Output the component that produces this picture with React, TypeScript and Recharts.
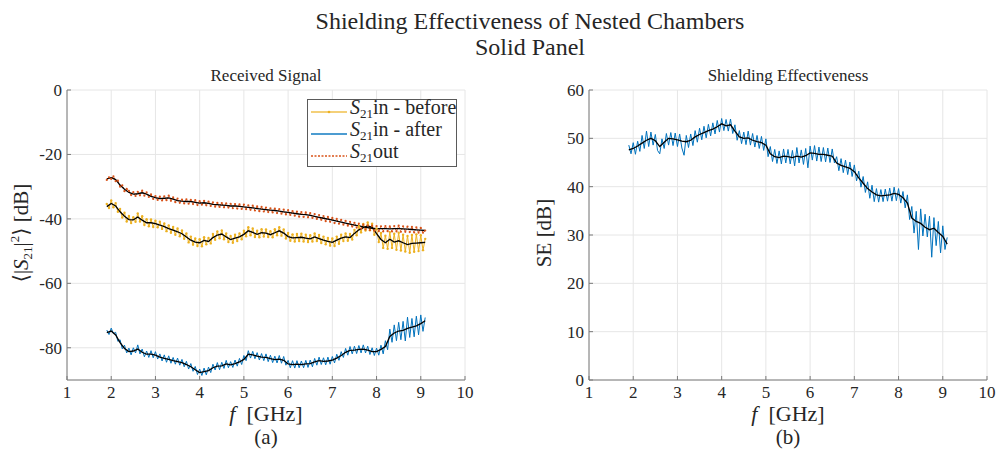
import React from 'react';
import { ComposedChart, Line, XAxis, YAxis, CartesianGrid } from 'recharts';

// measurement grid: raw sweep every 50 MHz, smoothed curve every 100 MHz
const RAW_START = 1.9;
const RAW_STEP = 0.05;
const SMOOTH_STEP = 0.1;

const X_TICKS = [1, 2, 3, 4, 5, 6, 7, 8, 9, 10];
const RX_TICKS = [-80, -60, -40, -20, 0];
const SE_TICKS = [0, 10, 20, 30, 40, 50, 60];

// S21 out (raw)
const outRaw = [
  -27.9, -27.1, -27.6, -26.8, -28.3, -28.1, -30.0, -29.6, -31.4, -30.7,
  -31.3, -32.6, -31.7, -32.9, -31.6, -32.7, -31.2, -32.8, -31.8, -33.2,
  -32.4, -33.8, -32.9, -34.1, -33.1, -34.3, -33.0, -34.2, -32.8, -34.4,
  -33.3, -34.8, -33.7, -35.0, -34.0, -35.2, -33.9, -35.3, -34.1, -35.4,
  -34.2, -35.7, -34.5, -35.6, -34.4, -35.8, -34.6, -36.0, -34.9, -36.2,
  -35.0, -36.3, -35.1, -36.4, -35.2, -36.5, -35.3, -36.7, -35.4, -36.8,
  -35.5, -36.9, -35.6, -37.0, -35.8, -37.2, -35.9, -37.4, -36.1, -37.6,
  -36.3, -37.7, -36.5, -37.9, -36.7, -38.0, -36.8, -38.2, -37.0, -38.4,
  -37.1, -38.6, -37.3, -38.8, -37.6, -39.0, -37.7, -39.3, -37.9, -39.4,
  -38.0, -39.5, -38.2, -39.7, -38.5, -40.0, -38.8, -40.3, -39.1, -40.7,
  -39.4, -40.9, -39.7, -41.3, -40.0, -41.5, -40.3, -41.8, -40.6, -42.1,
  -40.9, -42.4, -41.2, -42.7, -41.5, -43.0, -41.8, -43.3, -42.0, -43.5,
  -42.1, -43.7, -42.2, -43.8, -42.3, -43.9, -42.2, -43.8, -42.3, -43.9,
  -42.2, -43.9, -42.1, -44.0, -42.3, -44.0, -42.4, -44.1, -42.5, -44.2,
  -42.6, -44.3, -42.8, -44.3, -43.6,
];

// S21 in, before (raw)
const beforeRaw = [
  -35.4, -36.6, -34.3, -36.4, -35.1, -37.8, -36.9, -39.6, -38.1, -40.8,
  -39.1, -41.3, -39.5, -40.9, -38.3, -40.8, -39.2, -41.9, -40.1, -42.3,
  -40.2, -42.5, -40.6, -42.6, -40.9, -43.1, -41.4, -43.8, -42.0, -44.3,
  -42.5, -44.9, -43.0, -45.4, -43.6, -46.2, -44.5, -47.3, -45.5, -48.0,
  -46.1, -48.4, -46.3, -48.5, -45.7, -47.9, -45.9, -47.6, -44.7, -46.5,
  -43.9, -46.0, -43.6, -46.3, -44.5, -47.2, -45.3, -47.4, -44.9, -46.9,
  -44.5, -46.3, -43.7, -45.4, -42.6, -45.1, -43.0, -45.6, -43.7, -45.7,
  -43.2, -45.5, -43.3, -45.6, -43.8, -45.7, -43.2, -45.1, -42.6, -45.2,
  -43.3, -46.1, -44.4, -46.8, -44.8, -47.0, -44.7, -46.9, -44.6, -47.0,
  -44.9, -47.2, -45.1, -47.0, -44.5, -46.9, -45.0, -47.5, -45.5, -47.9,
  -45.9, -48.3, -46.1, -48.4, -45.5, -47.7, -44.9, -46.9, -44.5, -46.8,
  -44.7, -46.4, -43.4, -45.1, -42.3, -44.2, -41.6, -43.6, -41.1, -43.5,
  -41.5, -44.9, -43.0, -47.2, -44.4, -49.0, -45.2, -49.3, -44.1, -49.0,
  -44.6, -49.6, -44.3, -49.8, -44.9, -50.1, -45.3, -50.5, -45.0, -50.2,
  -44.8, -50.0, -45.1, -49.7, -46.2,
];

// S21 in, after (raw)
const afterRaw = [
  -74.5, -75.9, -73.9, -75.6, -75.2, -78.0, -77.5, -80.3, -79.2, -81.6,
  -80.1, -82.2, -80.0, -81.6, -79.1, -81.9, -80.4, -82.8, -81.0, -83.0,
  -80.9, -83.1, -81.2, -83.5, -81.9, -84.1, -82.2, -84.5, -82.5, -84.8,
  -83.0, -85.1, -83.2, -85.4, -83.6, -85.9, -84.2, -86.6, -84.9, -87.3,
  -85.8, -88.3, -86.6, -88.6, -86.3, -88.4, -86.0, -87.7, -85.1, -86.9,
  -84.6, -86.8, -84.5, -86.4, -83.9, -86.2, -84.3, -86.1, -83.8, -85.7,
  -83.3, -85.2, -82.4, -84.0, -80.9, -83.2, -81.1, -83.4, -81.5, -83.8,
  -81.8, -84.0, -81.9, -84.3, -82.3, -84.6, -82.6, -84.7, -82.4, -84.8,
  -82.7, -85.4, -83.9, -86.2, -84.0, -86.3, -84.0, -86.2, -84.1, -86.2,
  -83.9, -86.1, -83.8, -85.9, -83.3, -85.4, -82.9, -85.2, -83.1, -85.3,
  -82.9, -85.1, -82.7, -84.7, -82.0, -83.9, -81.2, -83.0, -80.2, -82.3,
  -79.6, -81.9, -79.5, -81.8, -79.3, -81.6, -79.1, -81.6, -79.5, -82.1,
  -80.0, -82.4, -80.1, -82.3, -79.2, -81.9, -77.8, -80.6, -74.2, -78.3,
  -72.9, -77.8, -72.1, -77.5, -71.8, -77.9, -70.5, -76.8, -70.9, -76.6,
  -70.2, -76.0, -69.8, -74.9, -70.6,
];

// shielding effectiveness (raw)
const seRaw = [
  48.6, 46.8, 49.1, 46.7, 49.4, 47.3, 50.6, 47.9, 51.5, 48.3,
  51.3, 48.6, 50.8, 47.5, 46.8, 49.9, 47.9, 51.0, 48.6, 51.2,
  48.5, 51.1, 48.3, 50.9, 48.0, 46.5, 50.6, 48.1, 50.9, 48.5,
  51.6, 49.2, 52.1, 49.7, 52.5, 50.1, 52.9, 50.5, 53.2, 50.9,
  53.7, 51.3, 54.1, 51.6, 53.9, 51.5, 54.0, 51.0, 52.8, 49.6,
  51.6, 48.9, 51.3, 48.7, 51.5, 48.6, 51.0, 48.2, 50.6, 47.9,
  50.4, 47.5, 49.9, 46.2, 48.3, 45.2, 47.7, 44.8, 47.4, 44.7,
  47.8, 44.9, 47.7, 44.7, 47.5, 44.3, 48.1, 44.9, 47.6, 44.6,
  47.9, 43.9, 48.4, 45.5, 48.5, 45.3, 48.2, 45.2, 48.1, 45.1,
  48.0, 45.0, 47.8, 44.9, 46.2, 43.3, 45.8, 42.9, 45.5, 42.5,
  45.1, 42.1, 44.5, 41.2, 43.2, 39.9, 42.1, 38.8, 41.0, 37.6,
  40.3, 36.9, 39.6, 36.8, 39.4, 36.9, 39.5, 37.0, 39.7, 37.0,
  39.9, 37.1, 39.6, 36.6, 39.0, 35.6, 38.3, 33.2, 35.9, 30.4,
  34.9, 27.0, 35.4, 29.8, 34.3, 29.6, 33.9, 25.4, 33.6, 27.8,
  32.8, 26.3, 31.9, 27.0, 29.5,
];

// smoothed curves (black)
const outSmooth = [
  -27.6, -27.2, -27.8, -29.5, -30.8, -31.8, -32.3, -32.2, -31.9, -32.3,
  -33.0, -33.4, -33.7, -33.6, -33.5, -33.9, -34.3, -34.5, -34.6, -34.6,
  -34.9, -35.1, -35.0, -35.2, -35.5, -35.6, -35.7, -35.8, -36.0, -36.0,
  -36.1, -36.3, -36.4, -36.6, -36.8, -37.0, -37.1, -37.3, -37.4, -37.6,
  -37.8, -38.0, -38.2, -38.4, -38.6, -38.7, -38.9, -39.2, -39.5, -39.8,
  -40.1, -40.4, -40.7, -41.0, -41.3, -41.6, -41.9, -42.2, -42.5, -42.7,
  -42.9, -43.0, -43.0, -43.0, -43.1, -43.0, -43.0, -43.1, -43.2, -43.3,
  -43.4, -43.5, -43.6,
];

const beforeSmooth = [
  -36.2, -35.2, -36.0, -37.8, -39.2, -40.2, -40.3, -39.4, -40.4, -41.2,
  -41.2, -41.5, -41.9, -42.4, -43.0, -43.5, -44.0, -44.6, -45.6, -46.6,
  -47.2, -47.4, -46.7, -47.0, -45.8, -45.0, -44.7, -45.6, -46.4, -46.0,
  -45.6, -44.8, -43.7, -44.2, -44.8, -44.3, -44.4, -44.9, -44.3, -43.7,
  -44.4, -45.5, -45.9, -45.8, -45.7, -46.0, -46.2, -45.6, -46.1, -46.6,
  -47.0, -47.3, -46.6, -46.0, -45.6, -45.8, -44.5, -43.4, -42.7, -42.2,
  -42.6, -44.6, -46.4, -47.4, -46.3, -47.2, -46.8, -47.4, -48.0, -47.6,
  -47.5, -47.4, -47.3,
];

const afterSmooth = [
  -75.3, -74.8, -76.0, -78.4, -80.2, -81.2, -81.0, -80.4, -81.4, -82.0,
  -82.0, -82.3, -82.9, -83.3, -83.6, -84.0, -84.3, -84.6, -85.2, -85.9,
  -86.8, -87.7, -87.4, -87.1, -86.2, -85.7, -85.6, -85.0, -85.3, -84.9,
  -84.4, -83.6, -82.0, -82.2, -82.6, -82.9, -83.0, -83.4, -83.7, -83.5,
  -83.9, -85.0, -85.2, -85.1, -85.2, -85.0, -84.9, -84.4, -84.0, -84.2,
  -84.1, -83.8, -83.2, -82.4, -81.4, -80.8, -80.7, -80.5, -80.4, -80.7,
  -81.2, -81.2, -80.5, -79.6, -76.5, -75.4, -74.8, -74.6, -74.0, -73.6,
  -73.2, -72.5, -71.6,
];

const seSmooth = [
  47.6, 47.9, 48.4, 49.0, 49.6, 50.0, 49.5, 48.3, 49.2, 50.0,
  49.9, 49.7, 49.4, 49.3, 49.6, 50.3, 50.8, 51.2, 51.6, 51.9,
  52.4, 53.0, 52.6, 52.8, 51.5, 50.3, 50.0, 50.1, 49.6, 49.3,
  49.1, 48.6, 46.8, 46.2, 46.0, 46.3, 46.2, 46.0, 46.3, 46.1,
  46.4, 47.0, 46.9, 46.7, 46.7, 46.5, 46.3, 44.9, 44.4, 44.1,
  43.8, 43.1, 41.8, 40.7, 39.6, 38.9, 38.3, 38.1, 38.2, 38.3,
  38.6, 38.4, 37.7, 36.6, 33.5, 32.8, 32.4, 31.6, 31.1, 31.4,
  30.5, 29.7, 28.1,
];

const toRows = (vals: number[], step: number) =>
  vals.map((v, i) => ({ f: +(RAW_START + i * step).toFixed(2), v }));

const FONT = '"Liberation Serif", "DejaVu Serif", serif';
const TEXT = '#262626';
const AXIS = '#7a7a7a';
const GRID = '#e6e6e6';

const YELLOW = '#EDB120';
const BLUE = '#0072BD';
const RED = '#D95319';

const tickStyle = { fontSize: 17, fill: TEXT, fontFamily: FONT };

const Sub21 = () => <sub style={{ fontSize: 13, verticalAlign: -4 }}>21</sub>;

const legendItems = [
  { label: 'in - before', color: YELLOW, dash: undefined, dot: true, opacity: 0.6 },
  { label: 'in - after', color: BLUE, dash: undefined, dot: false, opacity: 0.7 },
  { label: 'out', color: RED, dash: '2 1.5', dot: false, opacity: 1 },
];

const RxLegend = () => (
  <div
    style={{
      position: 'absolute',
      left: 307,
      top: 99,
      width: 150,
      height: 68,
      border: '1px solid #5a5a5a',
      background: '#fff',
      fontFamily: FONT,
      fontSize: 20,
      color: TEXT,
      boxSizing: 'border-box',
      paddingTop: 1,
    }}
  >
    {legendItems.map((it) => (
      <div key={it.label} style={{ display: 'flex', alignItems: 'center', height: 22, lineHeight: '20px' }}>
        <svg width={41} height={10} style={{ flex: 'none' }}>
          <line x1={3} y1={5} x2={39} y2={5} stroke={it.color} strokeWidth={it.dash ? 1.5 : 2}
            strokeDasharray={it.dash} strokeOpacity={it.opacity} />
          {it.dot && <circle cx={21} cy={5} r={1.3} fill={it.color} />}
        </svg>
        <span style={{ marginLeft: 1, whiteSpace: 'nowrap', marginTop: -4 }}>
          <i>S</i>
          <Sub21 />
          {it.label}
        </span>
      </div>
    ))}
  </div>
);

const txt = (extra: React.CSSProperties): React.CSSProperties => ({
  position: 'absolute',
  fontFamily: FONT,
  color: TEXT,
  whiteSpace: 'nowrap',
  lineHeight: 1,
  ...extra,
});

const App: React.FC = () => {
  const outR = toRows(outRaw, RAW_STEP);
  const beforeR = toRows(beforeRaw, RAW_STEP);
  const afterR = toRows(afterRaw, RAW_STEP);
  const seR = toRows(seRaw, RAW_STEP);
  const outS = toRows(outSmooth, SMOOTH_STEP);
  const beforeS = toRows(beforeSmooth, SMOOTH_STEP);
  const afterS = toRows(afterSmooth, SMOOTH_STEP);
  const seS = toRows(seSmooth, SMOOTH_STEP);

  const xAxis = (
    <XAxis
      dataKey="f"
      type="number"
      domain={[1, 10]}
      ticks={X_TICKS}
      allowDataOverflow
      interval={0}
      stroke={AXIS}
      tick={tickStyle}
      tickSize={-4}
      tickMargin={10}
      height={30}
    />
  );

  return (
    <div style={{ position: 'absolute', left: 0, top: 0, width: 998, height: 454, background: '#fff' }}>
      <div style={txt({ left: 0, width: 1060, top: 9, textAlign: 'center', fontSize: 24 })}>
        Shielding Effectiveness of Nested Chambers
      </div>
      <div style={txt({ left: 0, width: 1060, top: 35, textAlign: 'center', fontSize: 24 })}>Solid Panel</div>

      {/* (a) received signal */}
      <div style={{ position: 'absolute', left: 0, top: 0 }}>
        <ComposedChart width={499} height={454} margin={{ top: 90, right: 34, left: 27, bottom: 44 }}>
          <CartesianGrid stroke={GRID} />
          {xAxis}
          <YAxis
            type="number"
            domain={[-90, 0]}
            ticks={RX_TICKS}
            allowDataOverflow
            interval={0}
            stroke={AXIS}
            tick={tickStyle}
            tickSize={-4}
            tickMargin={9}
            width={40}
          />
          <Line data={beforeR} dataKey="v" type="linear" stroke={YELLOW} strokeWidth={1}
            dot={{ r: 1.2, fill: YELLOW, stroke: 'none' }} isAnimationActive={false} />
          <Line data={beforeS} dataKey="v" type="linear" stroke="#000" strokeWidth={1.3} dot={false}
            isAnimationActive={false} />
          <Line data={afterR} dataKey="v" type="linear" stroke={BLUE} strokeWidth={1} dot={false}
            isAnimationActive={false} />
          <Line data={afterS} dataKey="v" type="linear" stroke="#000" strokeWidth={1.3} dot={false}
            isAnimationActive={false} />
          <Line data={outR} dataKey="v" type="linear" stroke={RED} strokeWidth={1} strokeDasharray="2 1.5"
            dot={{ r: 1.1, fill: RED, stroke: 'none' }} isAnimationActive={false} />
          <Line data={outS} dataKey="v" type="linear" stroke="#000" strokeWidth={1.3} dot={false}
            isAnimationActive={false} />
        </ComposedChart>
      </div>
      <RxLegend />
      <div style={txt({ left: 67, width: 398, top: 67, textAlign: 'center', fontSize: 17 })}>Received Signal</div>
      <div style={txt({ left: 67, width: 398, top: 403, textAlign: 'center', fontSize: 22 })}>
        <i>f</i>&nbsp; [GHz]
      </div>
      <div style={txt({ left: 67, width: 398, top: 427, textAlign: 'center', fontSize: 21 })}>(a)</div>
      <div
        style={txt({
          left: 21,
          top: 233,
          fontSize: 21,
          transform: 'translate(-50%, -50%) rotate(-90deg)',
        })}
      >
        {'\u27E8|'}
        <i>S</i>
        <Sub21 />
        {'|'}
        <sup style={{ fontSize: 13, verticalAlign: 9 }}>2</sup>
        {'\u27E9\u00A0[dB]'}
      </div>

      {/* (b) shielding effectiveness */}
      <div style={{ position: 'absolute', left: 499, top: 0 }}>
        <ComposedChart width={499} height={454} margin={{ top: 90, right: 11, left: 50, bottom: 44 }}>
          <CartesianGrid stroke={GRID} />
          {xAxis}
          <YAxis
            type="number"
            domain={[0, 60]}
            ticks={SE_TICKS}
            allowDataOverflow
            interval={0}
            stroke={AXIS}
            tick={tickStyle}
            tickSize={-4}
            tickMargin={9}
            width={40}
          />
          <Line data={seR} dataKey="v" type="linear" stroke={BLUE} strokeWidth={1} dot={false}
            isAnimationActive={false} />
          <Line data={seS} dataKey="v" type="linear" stroke="#000" strokeWidth={1.3} dot={false}
            isAnimationActive={false} />
        </ComposedChart>
      </div>
      <div style={txt({ left: 589, width: 398, top: 67, textAlign: 'center', fontSize: 17 })}>
        Shielding Effectiveness
      </div>
      <div style={txt({ left: 589, width: 398, top: 403, textAlign: 'center', fontSize: 22 })}>
        <i>f</i>&nbsp; [GHz]
      </div>
      <div style={txt({ left: 589, width: 398, top: 427, textAlign: 'center', fontSize: 21 })}>(b)</div>
      <div
        style={txt({
          left: 544,
          top: 233,
          fontSize: 21,
          transform: 'translate(-50%, -50%) rotate(-90deg)',
        })}
      >
        SE [dB]
      </div>
    </div>
  );
};

export default App;
